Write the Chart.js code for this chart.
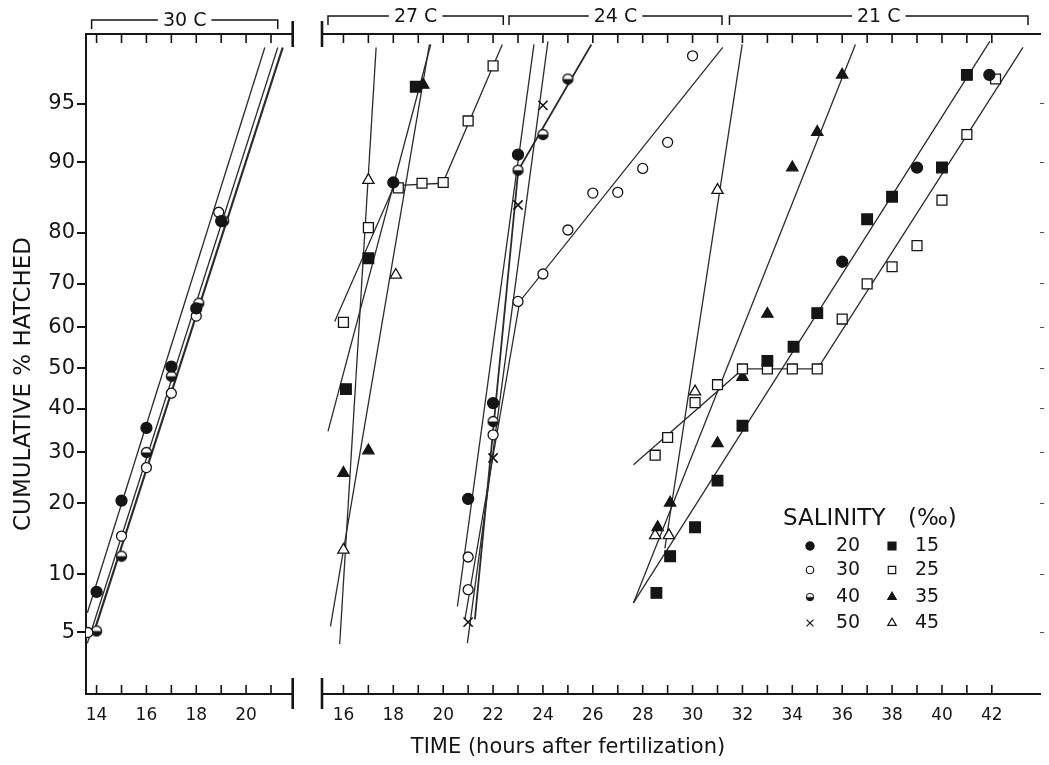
<!DOCTYPE html>
<html>
<head>
<meta charset="utf-8">
<title>Cumulative % hatched</title>
<script src="https://cdn.jsdelivr.net/npm/chart.js@4.4.1/dist/chart.umd.min.js"></script>
<style>
  html, body { margin: 0; padding: 0; background: #fff; }
  #wrap { position: relative; width: 1049px; height: 765px; overflow: hidden; }
  #left { position: absolute; left: 0; top: 0; }
  #right { position: absolute; left: 300px; top: 0; }
</style>
</head>
<body>
<div id="wrap">
  <canvas id="left" width="300" height="765"></canvas>
  <canvas id="right" width="749" height="765"></canvas>
</div>
<script>
// ---- data: [hours, cumulative %] ----
const probTicks = [5, 10, 20, 30, 40, 50, 60, 70, 80, 90, 95]
const yRangePct = [2.13, 98.12]
const leftHours = [14, 15, 16, 17, 18, 19, 20, 21]
const rightHours = [16, 17, 18, 19, 20, 21, 22, 23, 24, 25, 26, 27, 28, 29, 30, 31, 32, 33, 34, 35, 36, 37, 38, 39, 40, 41, 42]
const leftRange = [13.575, 21.87]
const rightRange = [15.14, 43.94]

const tempGroups = ['30 C', '27 C', '24 C', '21 C']
const tempSpans = [[13.8, 21.27], [15.38, 22.41], [22.64, 31.18], [31.48, 43.45]]

const salinityCol1 = ['20', '30', '40', '50']
const salinityCol2 = ['15', '25', '35', '45']

// 30 C
const t30_s20 = [[14, 8.2], [15, 20.5], [16, 35.5], [17, 50.4], [18, 64.5], [19, 82]]
const t30_s30 = [[13.65, 5], [15, 14.8], [16, 26.8], [17, 43.8], [18, 62.7], [18.9, 83.4]]
const t30_s40 = [[14, 5.1], [15, 12.1], [16, 30], [17, 48], [18.1, 65.7], [19.1, 82]]
const t30_fit20 = [[13.63, 6.4], [20.75, 97.7]]
const t30_fit30 = [[13.63, 4.35], [21.27, 97.7]]
const t30_fit40 = [[13.89, 5], [21.47, 97.7]]

// 27 C
const t27_s15 = [[16.1, 44.8], [17, 75.3], [18.9, 96]]
const t27_s20 = [[18, 87.6]]
const t27_s25 = [[16, 61.2], [17, 80.9], [18.2, 86.9], [19.15, 87.5], [20, 87.6], [21, 93.8], [22, 97]]
const t27_s35 = [[16, 25.7], [17, 30.4], [19.2, 96.1]]
const t27_s45 = [[16, 12.9], [17, 87.9], [18.1, 71.9]]
const t27_fit15 = [[15.38, 34.7], [19.5, 97.8]]
const t27_fit25 = [[15.65, 61.4], [18.04, 87.2], [19.98, 87.5], [22.37, 97.8]]
const t27_fit35 = [[15.48, 5.4], [19.45, 97.8]]
const t27_fit45 = [[15.85, 4.3], [17.31, 97.7]]

// 24 C
const t24_s20 = [[21, 20.8], [22, 41.4], [23, 90.8]]
const t24_s30 = [[21, 8.4], [21, 12], [22, 33.9], [23, 66.1], [24, 72.1], [25, 80.5], [26, 86.2], [27, 86.3], [28, 89.3], [29, 92], [30, 97.4]]
const t24_s40 = [[22, 37], [23, 89.1], [24, 92.7], [25, 96.4]]
const t24_s50 = [[21, 5.7], [22, 28.8], [23, 84.5], [24, 94.9]]
const t24_fit20 = [[20.57, 6.9], [23.64, 97.8]]
const t24_fit30 = [[20.87, 5.9], [23.07, 66.1], [31.21, 97.7]]
const t24_fit40 = [[21.27, 5.9], [23.01, 89.1], [25.94, 97.8]]
const t24_fit50 = [[20.97, 4.35], [24.2, 97.9]]

// 21 C
const t21_s15 = [[28.55, 8.1], [29.1, 12.1], [30.1, 16.1], [31, 24.2], [32, 36], [33, 51.8], [34.05, 55.3], [35, 63.4], [37, 82.3], [38, 85.7], [40, 89.4], [41, 96.6]]
const t21_s20 = [[36, 74.6], [39, 89.4], [41.9, 96.6]]
const t21_s25 = [[28.5, 29.4], [29, 33.3], [30.1, 41.5], [31, 45.9], [32, 49.8], [33, 49.8], [34, 49.8], [35, 49.8], [36, 62], [37, 70], [38, 73.6], [39, 77.7], [40, 85.2], [41, 92.7], [42.15, 96.4]]
const t21_s35 = [[28.6, 16.1], [29.1, 20.1], [31, 32], [32, 47.8], [33, 63.2], [34, 89.4], [35, 92.9], [36, 96.6]]
const t21_s45 = [[28.5, 14.9], [29.05, 14.9], [30.1, 44.2], [31, 86.6]]
const t21_fit15 = [[27.63, 7.2], [41.92, 97.9]]
const t21_fit25 = [[27.63, 27.4], [32.02, 49.8], [35.01, 49.8], [43.25, 97.7]]
const t21_fit35 = [[27.63, 7.2], [36.53, 97.8]]
const t21_fit45 = [[28.89, 13.1], [31.99, 97.8]]

// ---- helpers ----
const INK = '#151515'
const FONT = 'DejaVu Sans'
Chart.defaults.font.family = FONT
Chart.defaults.color = INK

// inverse normal cdf (Acklam) -> probability axis
function probit(p) {
  const a = [-39.69683028665376, 220.9460984245205, -275.9285104469687, 138.3577518672690, -30.66479806614716, 2.506628277459239]
  const b = [-54.47609879822406, 161.5858368580409, -155.6989798598866, 66.80131188771972, -13.28068155288572]
  const c = [-0.007784894002430293, -0.3223964580411365, -2.400758277161838, -2.549732539343734, 4.374664141464968, 2.938163982698783]
  const d = [0.007784695709041462, 0.3224671290700398, 2.445134137142996, 3.754408661907416]
  const pl = 0.02425
  if (p < pl) {
    const q = Math.sqrt(-2 * Math.log(p))
    return (((((c[0]*q+c[1])*q+c[2])*q+c[3])*q+c[4])*q+c[5]) / ((((d[0]*q+d[1])*q+d[2])*q+d[3])*q+1)
  }
  if (p > 1 - pl) {
    const q = Math.sqrt(-2 * Math.log(1 - p))
    return -(((((c[0]*q+c[1])*q+c[2])*q+c[3])*q+c[4])*q+c[5]) / ((((d[0]*q+d[1])*q+d[2])*q+d[3])*q+1)
  }
  const q = p - 0.5, r = q * q
  return (((((a[0]*r+a[1])*r+a[2])*r+a[3])*r+a[4])*r+a[5])*q / (((((b[0]*r+b[1])*r+b[2])*r+b[3])*r+b[4])*r+1)
}
const toXY = ([h, pct]) => ({ x: h, y: probit(pct / 100) })

const halfDisc = (() => {
  const c = document.createElement('canvas')
  c.width = c.height = 13
  const g = c.getContext('2d')
  g.beginPath(); g.arc(6.5, 6.5, 5, 0, 2 * Math.PI); g.fillStyle = '#fff'; g.fill()
  g.beginPath(); g.arc(6.5, 6.5, 5, 0, Math.PI); g.fillStyle = INK; g.fill()
  g.beginPath(); g.arc(6.5, 6.5, 5, 0, 2 * Math.PI); g.lineWidth = 1.3; g.strokeStyle = INK; g.stroke()
  return c
})()

const STY = {
  '15': { style: 'rect', r: 7.5, fill: true },
  '20': { style: 'circle', r: 5.5, fill: true },
  '25': { style: 'rect', r: 7, fill: false },
  '30': { style: 'circle', r: 5, fill: false },
  '35': { style: 'triangle', r: 6.5, fill: true },
  '40': { style: 'half', r: 6 },
  '45': { style: 'triangle', r: 6.5, fill: false },
  '50': { style: 'crossRot', r: 6.5, fill: false }
}

const marks = (arr, sal) => {
  const s = STY[sal]
  return {
    data: arr.map(toXY), showLine: false, order: 0,
    pointStyle: s.style === 'half' ? halfDisc : s.style,
    pointRadius: s.r, pointHoverRadius: s.r,
    pointBackgroundColor: s.fill ? INK : '#fff',
    pointBorderColor: INK, pointBorderWidth: s.style === 'crossRot' ? 1.6 : 1.3
  }
}
const fitLine = (arr, w) => ({
  data: arr.map(toXY), showLine: true, order: 1, pointRadius: 0,
  borderColor: '#2b2b2b', borderWidth: w || 1.3, fill: false, tension: 0
})

// legend symbol, same look as the markers
function drawMark(ctx, sal, x, y, k) {
  const s = STY[sal], r = s.r * k
  ctx.save()
  ctx.lineWidth = 1.2; ctx.strokeStyle = INK; ctx.fillStyle = s.fill ? INK : '#fff'
  ctx.beginPath()
  if (s.style === 'half') {
    ctx.drawImage(halfDisc, x - 6.5 * k, y - 6.5 * k, 13 * k, 13 * k)
  } else if (s.style === 'circle') {
    ctx.arc(x, y, r, 0, 2 * Math.PI); ctx.fill(); ctx.stroke()
  } else if (s.style === 'rect') {
    const h = r * Math.SQRT1_2
    ctx.rect(x - h, y - h, 2 * h, 2 * h); ctx.fill(); ctx.stroke()
  } else if (s.style === 'triangle') {
    ctx.moveTo(x, y - r); ctx.lineTo(x + r * 0.866, y + r / 2); ctx.lineTo(x - r * 0.866, y + r / 2); ctx.closePath(); ctx.fill(); ctx.stroke()
  } else {
    const h = r * Math.SQRT1_2
    ctx.moveTo(x - h, y - h); ctx.lineTo(x + h, y + h); ctx.moveTo(x + h, y - h); ctx.lineTo(x - h, y + h); ctx.stroke()
  }
  ctx.restore()
}

const decor = {
  id: 'decor',
  afterDraw(chart, args, o) {
    const ctx = chart.ctx, a = chart.chartArea, xs = chart.scales.x
    ctx.save()
    ctx.strokeStyle = INK; ctx.fillStyle = INK
    // inward tick marks on bottom and top axes
    ctx.lineWidth = 1.6
    o.hours.forEach(h => {
      const px = xs.getPixelForValue(h)
      ctx.beginPath()
      ctx.moveTo(px, a.bottom); ctx.lineTo(px, a.bottom - 9)
      ctx.moveTo(px, a.top); ctx.lineTo(px, a.top + 9)
      ctx.stroke()
    })
    // axis break bars
    const bx = o.breakSide === 'right' ? a.right : a.left
    ctx.lineWidth = 2.6
    ctx.beginPath()
    ctx.moveTo(bx, a.top - 13); ctx.lineTo(bx, a.top + 13)
    ctx.moveTo(bx, a.bottom - 16); ctx.lineTo(bx, a.bottom + 15)
    ctx.stroke()
    // temperature brackets
    ctx.font = '19px ' + FONT
    ctx.textAlign = 'center'; ctx.textBaseline = 'middle'
    ctx.lineWidth = 1.5
    o.groups.forEach(i => {
      const x1 = xs.getPixelForValue(tempSpans[i][0]), x2 = xs.getPixelForValue(tempSpans[i][1])
      const y = o.bracketY, cx = (x1 + x2) / 2
      const tw = ctx.measureText(tempGroups[i]).width
      ctx.beginPath()
      ctx.moveTo(x1, y + 9); ctx.lineTo(x1, y); ctx.lineTo(cx - tw / 2 - 5, y)
      ctx.moveTo(cx + tw / 2 + 5, y); ctx.lineTo(x2, y); ctx.lineTo(x2, y + 9)
      ctx.stroke()
      ctx.fillText(tempGroups[i], cx, y + 1)
    })
    if (o.extra) o.extra(ctx, chart)
    ctx.restore()
  }
}

const yTicksBuild = s => { s.ticks = probTicks.map(p => ({ value: probit(p / 100) })) }
const yMin = probit(yRangePct[0] / 100), yMax = probit(yRangePct[1] / 100)

function xScales(range, hours) {
  const build = s => { s.ticks = hours.map(v => ({ value: v })) }
  return {
    x: {
      type: 'linear', position: 'bottom', min: range[0], max: range[1],
      afterBuildTicks: build,
      afterFit: s => { s.height = 71 },
      grid: { drawOnChartArea: false, drawTicks: false },
      border: { color: INK, width: 2 },
      ticks: {
        autoSkip: false, maxRotation: 0, padding: 11, color: INK,
        font: { size: 17 },
        callback: v => (v % 2 === 0 ? String(v) : '')
      }
    },
    xTop: {
      type: 'linear', position: 'top', min: range[0], max: range[1],
      afterBuildTicks: build,
      afterFit: s => { s.height = 34 },
      grid: { drawOnChartArea: false, drawTicks: false },
      border: { color: INK, width: 2 },
      ticks: { display: false }
    }
  }
}

const common = {
  type: 'scatter',
  plugins: [decor]
}

// ---- left panel: 30 C ----
new Chart(document.getElementById('left'), {
  ...common,
  data: {
    datasets: [
      fitLine(t30_fit20), fitLine(t30_fit30), fitLine(t30_fit40, 2.2),
      marks(t30_s20, '20'), marks(t30_s30, '30'), marks(t30_s40, '40')
    ]
  },
  options: {
    responsive: false, animation: false, devicePixelRatio: 1, events: [],
    layout: { padding: { left: 0, right: 5, top: 0, bottom: 0 } },
    scales: {
      ...xScales(leftRange, leftHours),
      y: {
        type: 'linear', min: yMin, max: yMax,
        afterBuildTicks: yTicksBuild,
        afterFit: s => { s.width = 86 },
        grid: { drawOnChartArea: false, tickLength: 9, color: INK, lineWidth: 2 },
        border: { color: INK, width: 2 },
        ticks: { padding: 2, color: INK, font: { size: 21 }, callback: (v, i) => String(probTicks[i]) }
      }
    },
    plugins: {
      legend: { display: false }, tooltip: { enabled: false },
      decor: {
        hours: leftHours, breakSide: 'right', groups: [0], bracketY: 20,
        extra: ctx => {
          ctx.save()
          ctx.translate(24, 384)
          ctx.rotate(-Math.PI / 2)
          ctx.font = '23px ' + FONT
          ctx.textAlign = 'center'; ctx.textBaseline = 'middle'
          ctx.fillText('CUMULATIVE % HATCHED', 0, 0)
          ctx.restore()
        }
      }
    }
  }
})

// ---- right panel: 27, 24, 21 C ----
new Chart(document.getElementById('right'), {
  ...common,
  data: {
    datasets: [
      fitLine(t27_fit15), fitLine(t27_fit25), fitLine(t27_fit35), fitLine(t27_fit45),
      fitLine(t24_fit20), fitLine(t24_fit30), fitLine(t24_fit40, 1.8), fitLine(t24_fit50),
      fitLine(t21_fit15), fitLine(t21_fit25), fitLine(t21_fit35), fitLine(t21_fit45),
      marks(t27_s15, '15'), marks(t27_s20, '20'), marks(t27_s25, '25'), marks(t27_s35, '35'), marks(t27_s45, '45'),
      marks(t24_s20, '20'), marks(t24_s30, '30'), marks(t24_s40, '40'), marks(t24_s50, '50'),
      marks(t21_s15, '15'), marks(t21_s20, '20'), marks(t21_s25, '25'), marks(t21_s35, '35'), marks(t21_s45, '45')
    ]
  },
  options: {
    responsive: false, animation: false, devicePixelRatio: 1, events: [],
    layout: { padding: { left: 22, right: 0, top: 0, bottom: 0 } },
    scales: {
      ...xScales(rightRange, rightHours),
      y: { type: 'linear', display: false, min: yMin, max: yMax },
      y2: {
        type: 'linear', position: 'right', min: yMin, max: yMax,
        afterBuildTicks: yTicksBuild,
        afterFit: s => { s.width = 5 },
        grid: { drawOnChartArea: false, tickLength: 4, color: '#555', lineWidth: 1 },
        border: { display: false },
        ticks: { display: false }
      }
    },
    plugins: {
      legend: { display: false }, tooltip: { enabled: false },
      decor: {
        hours: rightHours, breakSide: 'left', groups: [1, 2, 3], bracketY: 16,
        extra: ctx => {
          // axis title
          ctx.font = '21px ' + FONT
          ctx.textAlign = 'center'; ctx.textBaseline = 'middle'
          ctx.fillText('TIME (hours after fertilization)', 268, 748)
          // salinity key
          ctx.textAlign = 'left'
          ctx.font = '23px ' + FONT
          ctx.fillText('SALINITY', 483, 519)
          ctx.fillText('(‰)', 608, 519)
          ctx.font = '19px ' + FONT
          const rows = [546, 570, 597, 623]
          salinityCol1.forEach((s, i) => {
            drawMark(ctx, s, 510, rows[i], 0.75)
            ctx.fillText(s, 536, rows[i])
          })
          salinityCol2.forEach((s, i) => {
            drawMark(ctx, s, 592, rows[i], 0.75)
            ctx.fillText(s, 615, rows[i])
          })
        }
      }
    }
  }
})
</script>
</body>
</html>
